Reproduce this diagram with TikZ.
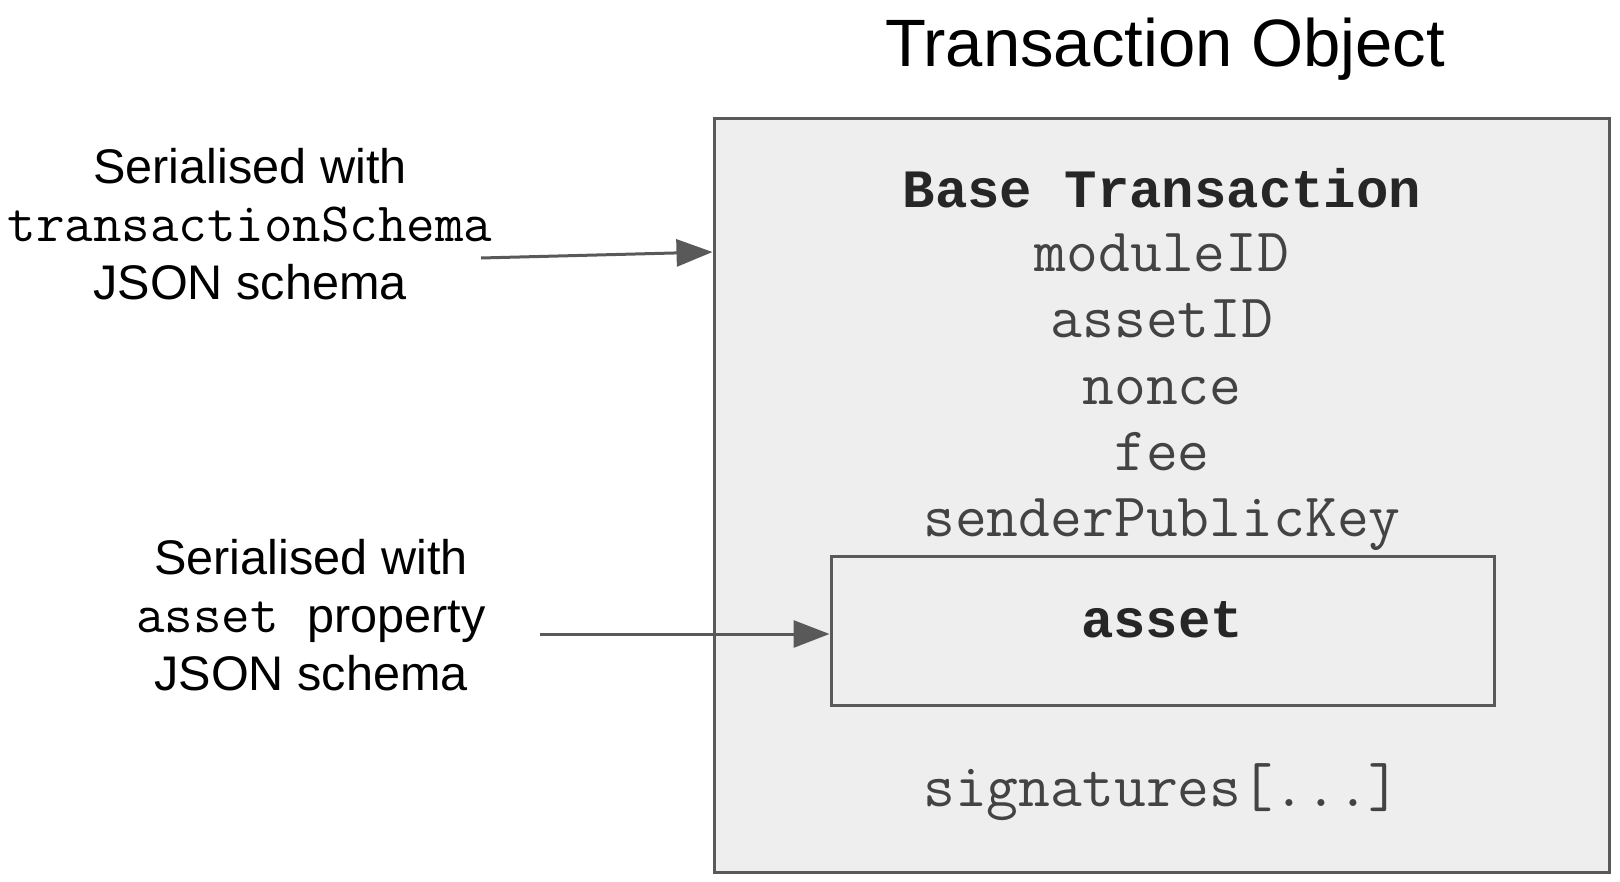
\documentclass[tikz,border=0pt]{standalone}
\usepackage{fontspec}
\setmainfont{Liberation Sans}
\newfontfamily\headfont{Liberation Mono}
\usetikzlibrary{arrows.meta}

\definecolor{boxfill}{HTML}{EEEEEE}
\definecolor{boxline}{HTML}{595959}
\definecolor{fieldtext}{HTML}{434343}
\definecolor{headtext}{HTML}{262626}

\newcommand{\codeword}[1]{{\fontsize{27.7}{29}\ttfamily #1}}

\tikzstyle{container}=[draw=boxline,fill=boxfill,line width=1.5pt,inner sep=0pt]
\tikzstyle{field}=[font=\fontsize{30.9}{30.9}\ttfamily,text=fieldtext,anchor=base,inner sep=0pt]
\tikzstyle{header}=[font=\fontsize{27}{27}\headfont\bfseries,text=headtext,anchor=base,inner sep=0pt]
\tikzstyle{sidenote}=[font=\fontsize{24.3}{29}\selectfont,align=center,inner sep=0pt]
\tikzstyle{feed}=[draw=boxline,line width=1.5pt,-{Triangle[length=18pt,width=13.5pt]}]

\begin{document}
\begin{tikzpicture}[x=0.5pt,y=-0.5pt]
		\useasboundingbox (0,0) rectangle (1620,882);
		% the two boxes
		\node[container,minimum width=447.5pt,minimum height=376.5pt] (tx) at (1161.5,495.5) {};
		\node[container,minimum width=331.5pt,minimum height=74.5pt] (assetbox) at (1162.5,630.5) {};
		\node[font=\fontsize{33.5}{40}\selectfont,anchor=base,inner sep=0pt] (title) at (1165,67) {Transaction Object};
		\node[header] (base) at (1162,207) {Base Transaction};
		\node[field] (moduleID) at (1162,271) {moduleID};
		\node[field] (assetID) at (1162,337) {assetID};
		\node[field] (nonce) at (1162,404) {nonce};
		\node[field] (fee) at (1162,470) {fee};
		\node[field] (senderPublicKey) at (1162,536) {senderPublicKey};
		\node[header] (asset) at (1162,637) {asset};
		\node[field] (signatures) at (1162,806) {signatures[...]};
		% labels on the left
		\node[sidenote] (txschema) at (250,224) {Serialised with\\\codeword{transactionSchema}\\JSON schema};
		\node[sidenote] (assetschema) at (311,615) {Serialised with\\\codeword{asset\ }property\\JSON schema};
		\coordinate (s1) at (481,258);
		\coordinate (e1) at (0,252);
		\coordinate (s2) at (540,634);
		\draw[feed] (s1) -- (tx.west |- e1);
		\draw[feed] (s2) -- (assetbox.west |- s2);
\end{tikzpicture}
\end{document}
